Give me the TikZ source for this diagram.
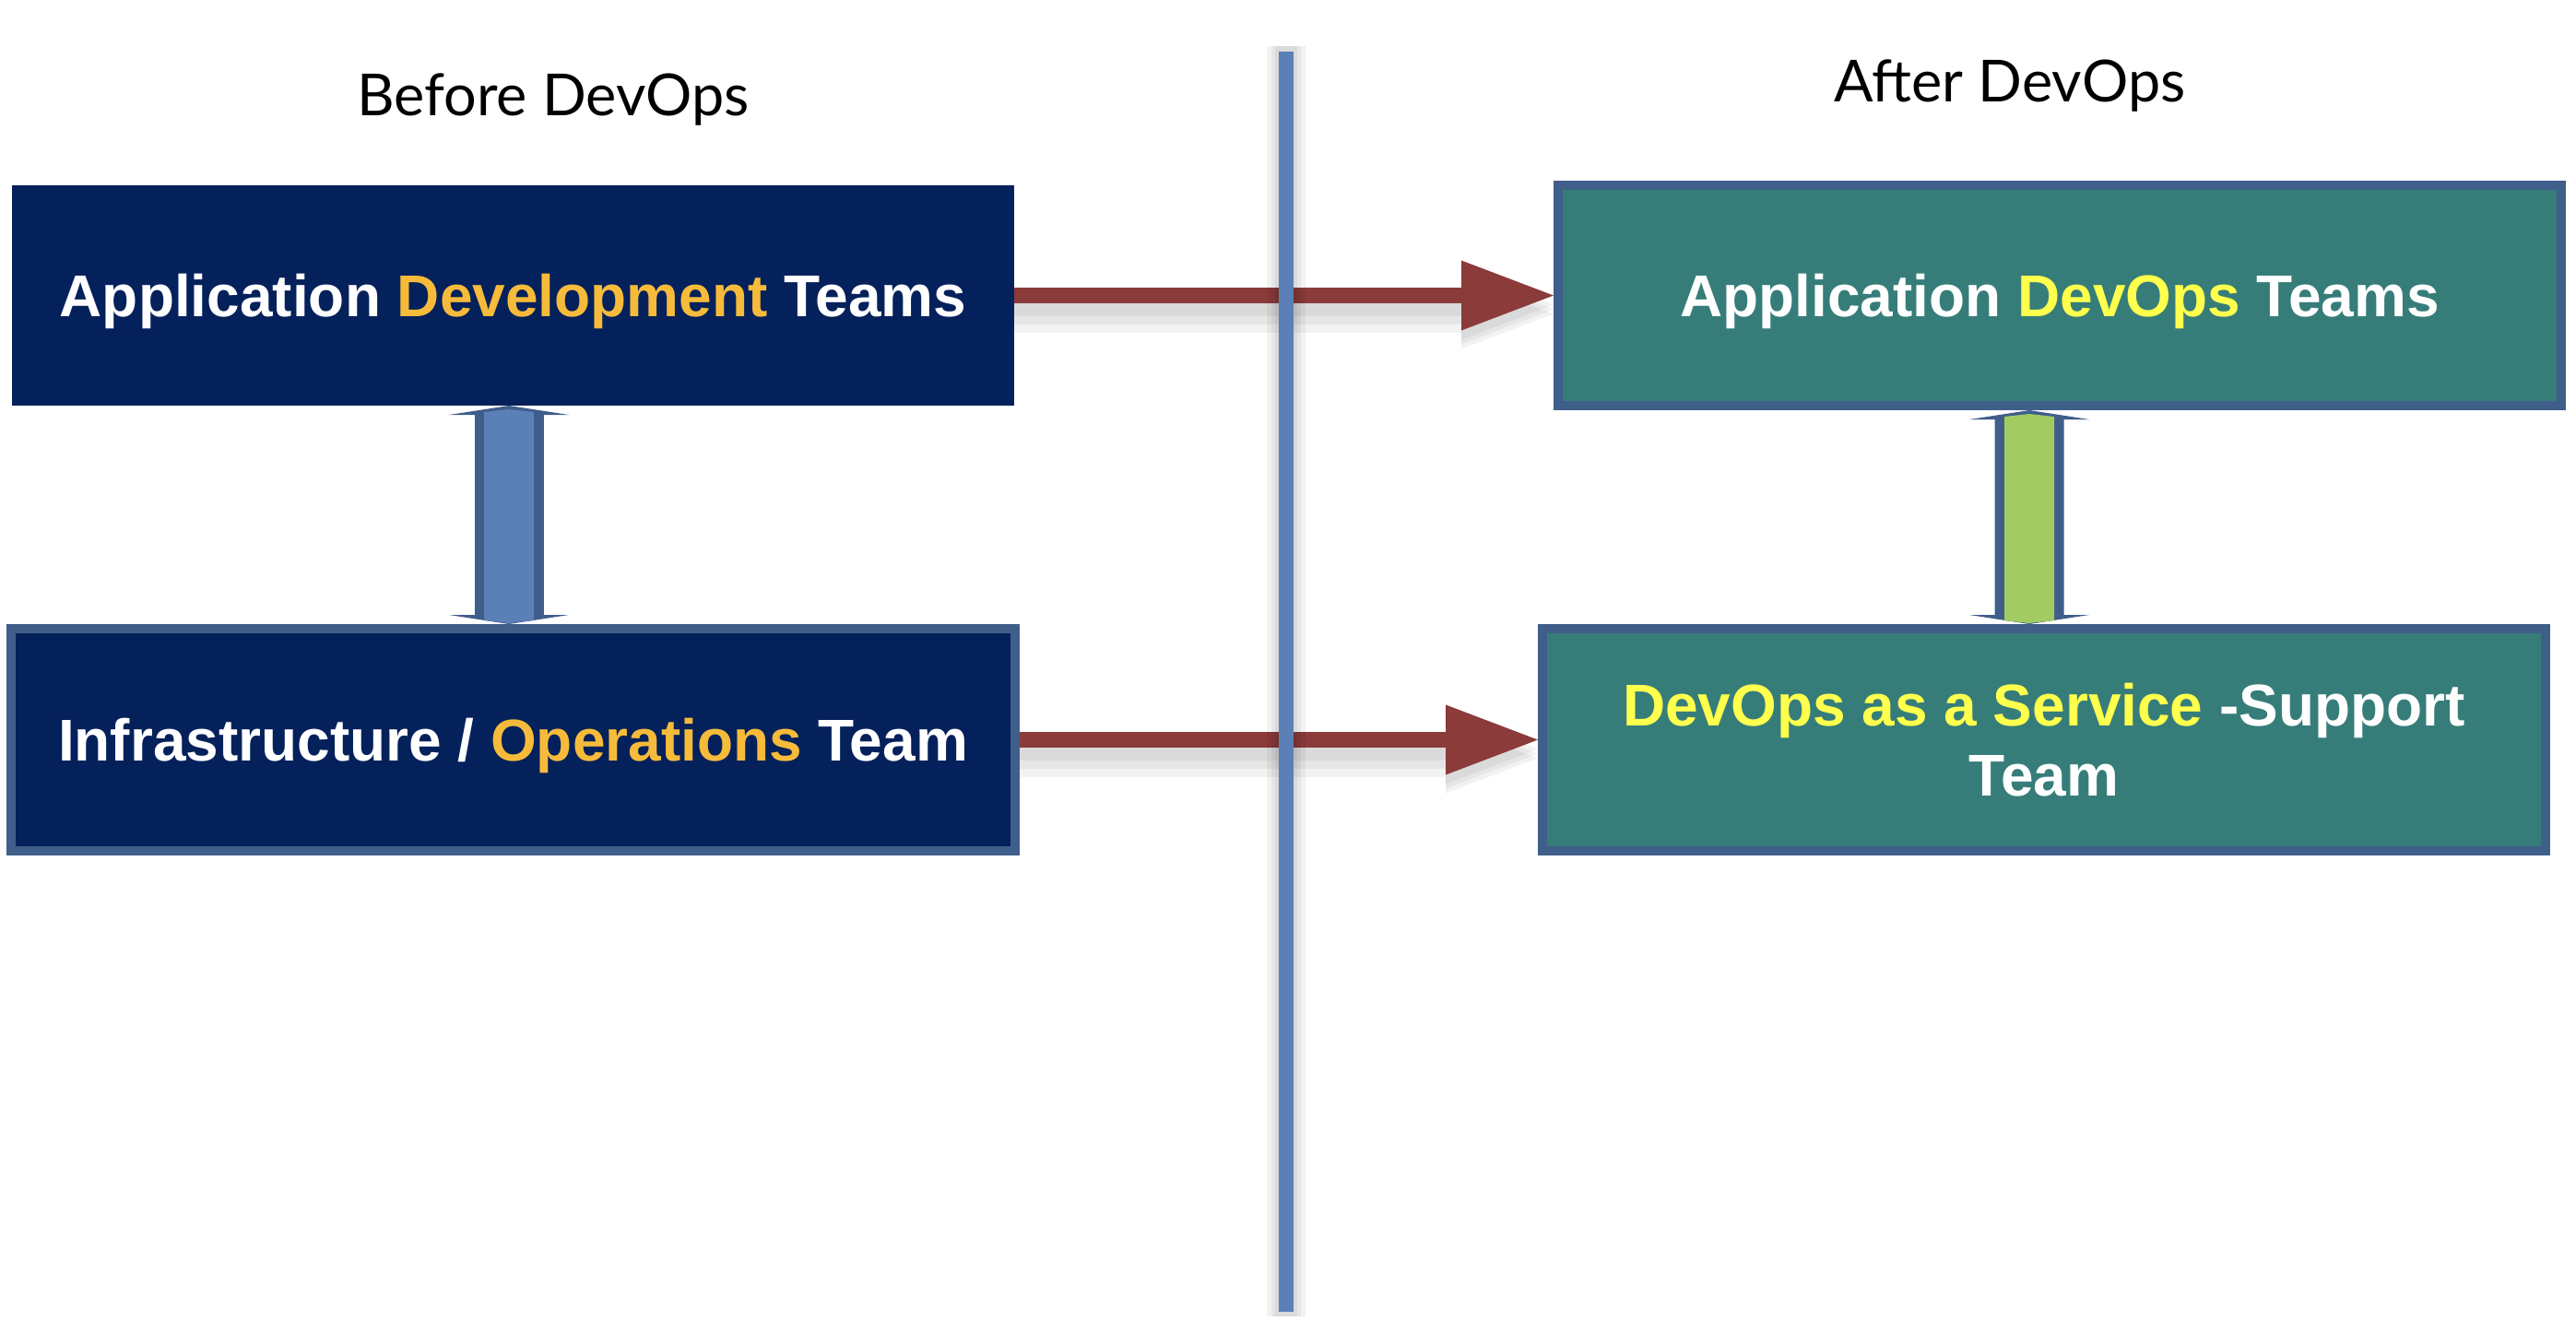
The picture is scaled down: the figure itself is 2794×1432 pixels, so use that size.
\documentclass[tikz,border=0pt]{standalone}
\usepackage{fontspec}
\setmainfont{Liberation Sans}
\newfontfamily\headfont{Lato}
\usetikzlibrary{arrows.meta,backgrounds}

\definecolor{navybox}{RGB}{5,33,91}
\definecolor{tealbox}{RGB}{54,125,122}
\definecolor{boxrim}{RGB}{63,94,138}
\definecolor{devorange}{RGB}{246,187,58}
\definecolor{devyellow}{RGB}{255,255,77}
\definecolor{linkblue}{RGB}{90,128,183}
\definecolor{linkgreen}{RGB}{162,203,98}
\definecolor{flowred}{RGB}{139,59,58}

\tikzset{
  team/.style={rectangle, text=white, align=center, inner sep=0pt,
    font=\fontsize{18.2}{21.6}\selectfont\bfseries,
    line width=1mm, minimum width=108.8mm, minimum height=24.1mm},
  oneline/.style={text depth=0pt},
  heading/.style={font=\headfont\fontsize{17.9}{21}\selectfont, anchor=base},
  flow/.style={draw=flowred, line width=1.7mm,
    -{Triangle[width=7.6mm, length=10mm, line width=0pt]}},
  flowshadow/.style={draw=black, opacity=0.05,
    -{Triangle[width=7.6mm, length=10mm, line width=0pt]}},
  linkrim/.style={draw=boxrim, line width=7.5mm,
    {Triangle[width=13mm, length=1mm, line width=0pt]}-{Triangle[width=13mm, length=1mm, line width=0pt]}},
  linkcore/.style={line width=5.4mm, shorten <=0.4mm, shorten >=0.1mm,
    {Triangle[width=5.4mm, length=0.3mm, line width=0pt]}-{Triangle[width=5.4mm, length=0.3mm, line width=0pt]}},
}

\begin{document}
\begin{tikzpicture}[x=0.1mm, y=-0.1mm]
  \useasboundingbox (0,0) rectangle (2794,1432);

  % headings
  \node[heading] (before) at (600,125) {Before DevOps};
  \node[heading] (after) at (2180,110) {After DevOps};

  % teams
  \node[team, oneline, fill=navybox, outer sep=0pt, minimum width=108.7mm, minimum height=23.9mm]
    (appdev) at (556.5,320.5) {Application \textcolor{devorange}{Development} Teams};
  \node[team, oneline, fill=navybox, draw=boxrim, minimum width=108.9mm]
    (infra) at (556.5,802.5) {Infrastructure / \textcolor{devorange}{Operations} Team};
  \node[team, oneline, fill=tealbox, draw=boxrim, minimum height=23.9mm]
    (appdevops) at (2234,320.5) {Application \textcolor{devyellow}{DevOps} Teams};
  \node[team, fill=tealbox, draw=boxrim]
    (daas) at (2217,802.5) {\textcolor{devyellow}{DevOps as a Service} -Support\\Team};

  \begin{scope}[on background layer]
    % before -> after
    \foreach \s/\w in {1.0/2.4, 1.5/3.2, 2.0/4.0} {
      \draw[flowshadow, line width=\w mm, transform canvas={yshift=-\s mm}] (appdev.east) -- (appdevops.west);
      \draw[flowshadow, line width=\w mm, transform canvas={yshift=-\s mm}] (infra.east) -- (daas.west);
    }
    \draw[flow] (appdev.east) -- (appdevops.west);
    \draw[flow] (infra.east) -- (daas.west);

    % links between teams
    \draw[linkrim] ([xshift=-0.45mm]appdev.south) -- ([xshift=-0.45mm]infra.north);
    \draw[linkcore, draw=linkblue] ([xshift=-0.45mm]appdev.south) -- ([xshift=-0.45mm]infra.north);
    \draw[linkrim] ([xshift=-3.3mm]appdevops.south) -- ([xshift=-1.6mm]daas.north);
    \draw[linkcore, draw=linkgreen] ([xshift=-3.3mm]appdevops.south) -- ([xshift=-1.6mm]daas.north);

    % divider
    \foreach \w in {2.4, 3.2, 4.2}
      \draw[black, opacity=0.05, line width=\w mm] (1395,50) -- (1395,1428);
    \draw[linkblue, line width=1.6mm] (1395,56) -- (1395,1423);
  \end{scope}
\end{tikzpicture}
\end{document}
